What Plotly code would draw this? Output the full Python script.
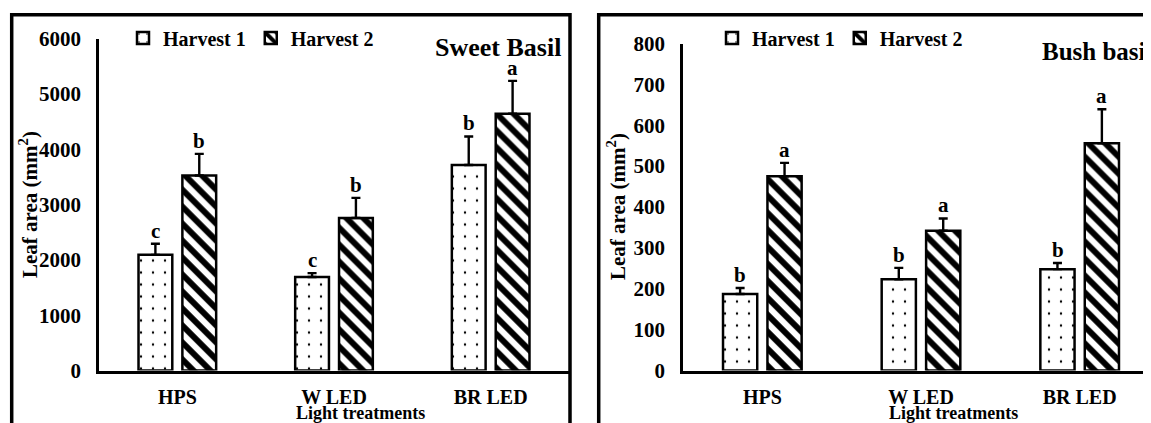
import plotly.graph_objects as go

# ---------------- data ----------------
treatments = ["HPS", "W LED", "BR LED"]
series_names = ["Harvest 1", "Harvest 2"]

sweet_h1 = [2090, 1690, 3715]
sweet_h1_err = [200, 70, 515]
sweet_h2 = [3525, 2755, 4640]
sweet_h2_err = [390, 365, 595]
sweet_h1_letters = ["c", "c", "b"]
sweet_h2_letters = ["b", "b", "a"]

bush_h1 = [187, 223, 248]
bush_h1_err = [15, 28, 15]
bush_h2 = [475, 342, 556]
bush_h2_err = [33, 30, 83]
bush_h1_letters = ["b", "b", "b"]
bush_h2_letters = ["a", "a", "a"]

sweet_ticks = [0, 1000, 2000, 3000, 4000, 5000, 6000]
bush_ticks = [0, 100, 200, 300, 400, 500, 600, 700, 800]

panel_titles = ["Sweet Basil", "Bush basil"]
y_title = "Leaf area (mm<sup>2</sup>)"
x_title = "Light treatments"

# ---------------- style ----------------
W, H = 1151, 423
OFF = 8  # page body margin of the html page
FONT = "Liberation Serif"


def px(x):
    return (x - OFF) / W


def py(y):
    return 1 - (y - OFF) / H


dots = dict(shape=".", fgcolor="black", bgcolor="white", fgopacity=1, size=12, solidity=0.03)
stripes = dict(shape="\\", fgcolor="black", bgcolor="white", fgopacity=1, size=12, solidity=0.5)
line = dict(color="black", width=2.5)


def err(arr):
    return dict(type="data", array=arr, arrayminus=[0] * len(arr), symmetric=False,
                color="black", thickness=2.4, width=4.5)


fig = go.Figure()

panels = [
    dict(x="x", y="y", legend="legend", h1=sweet_h1, e1=sweet_h1_err, h2=sweet_h2, e2=sweet_h2_err,
         l1=sweet_h1_letters, l2=sweet_h2_letters),
    dict(x="x2", y="y2", legend="legend2", h1=bush_h1, e1=bush_h1_err, h2=bush_h2, e2=bush_h2_err,
         l1=bush_h1_letters, l2=bush_h2_letters),
]

for p in panels:
    fig.add_trace(go.Bar(name=series_names[0], x=treatments, y=p["h1"], xaxis=p["x"], yaxis=p["y"],
                         legend=p["legend"], offsetgroup="1",
                         marker=dict(color="white", pattern=dots, line=line), error_y=err(p["e1"])))
    fig.add_trace(go.Bar(name=series_names[1], x=treatments, y=p["h2"], xaxis=p["x"], yaxis=p["y"],
                         legend=p["legend"], offsetgroup="2",
                         marker=dict(color="white", pattern=stripes, line=line), error_y=err(p["e2"])))

annotations = []
for p in panels:
    for vals, errs, letters, shift in [(p["h1"], p["e1"], p["l1"], -22), (p["h2"], p["e2"], p["l2"], 22)]:
        for t, v, e, lt in zip(treatments, vals, errs, letters):
            annotations.append(dict(x=t, y=v + e, xref=p["x"], yref=p["y"], text=lt, showarrow=False,
                                    xshift=shift, yshift=13, yanchor="middle",
                                    font=dict(family=FONT, size=21, color="black", weight="bold")))

# panel titles
annotations.append(dict(x=px(497.5), y=py(47), xref="paper", yref="paper", text=panel_titles[0],
                        showarrow=False, xanchor="center", yanchor="middle",
                        font=dict(family=FONT, size=26, color="black", weight="bold")))
annotations.append(dict(x=px(1040), y=py(51), xref="paper", yref="paper", text=panel_titles[1],
                        showarrow=False, xanchor="left", yanchor="middle",
                        font=dict(family=FONT, size=25, color="black", weight="bold")))
# axis titles
for xc, yc in [(28, 205), (616, 207)]:
    annotations.append(dict(x=px(xc), y=py(yc), xref="paper", yref="paper", text=y_title,
                            showarrow=False, textangle=-90, xanchor="center", yanchor="middle",
                            font=dict(family=FONT, size=21, color="black", weight="bold")))
for xc in [360, 953]:
    annotations.append(dict(x=px(xc), y=py(413), xref="paper", yref="paper", text=x_title,
                            showarrow=False, xanchor="center", yanchor="middle",
                            font=dict(family=FONT, size=18, color="black", weight="bold")))

tickfont = dict(family=FONT, size=21, color="black", weight="bold")
xtickfont = dict(family=FONT, size=20, color="black", weight="bold")
ydom_bottom = py(370.5)

shapes = [
    dict(type="rect", xref="paper", yref="paper", x0=px(11.7), x1=px(570), y0=-0.2, y1=py(14.7),
         line=dict(color="black", width=3.5), fillcolor="rgba(0,0,0,0)", layer="above"),
    dict(type="rect", xref="paper", yref="paper", x0=px(598.7), x1=px(1175), y0=-0.2, y1=py(14.7),
         line=dict(color="black", width=3.5), fillcolor="rgba(0,0,0,0)", layer="above"),
]

legend_common = dict(orientation="h", xanchor="left", yanchor="middle", bgcolor="rgba(0,0,0,0)",
                     font=dict(family=FONT, size=20, color="black", weight="bold"),
                     traceorder="normal", itemclick=False)

fig.update_layout(
    width=W, height=H, autosize=False,
    margin=dict(l=0, r=0, t=0, b=0, autoexpand=False),
    paper_bgcolor="white", plot_bgcolor="white",
    barmode="group", bargap=0.44, bargroupgap=0.23,
    font=dict(family=FONT, color="black"),
    xaxis=dict(domain=[px(99), px(569)], range=[-0.5, 2.5], showline=True, linecolor="black",
               linewidth=3, ticks="", tickfont=xtickfont, ticklabelstandoff=6, showgrid=False,
               zeroline=False, anchor="y", automargin=False),
    yaxis=dict(domain=[ydom_bottom, py(38.5)], range=[0, 6000], tickvals=sweet_ticks,
               showline=True, linecolor="black", linewidth=2.5, ticks="", tickfont=tickfont,
               ticklabelstandoff=11, showgrid=False, zeroline=False, anchor="x", automargin=False),
    xaxis2=dict(domain=[px(683), 1], range=[-0.5, 2.5], showline=True, linecolor="black",
                linewidth=3, ticks="", tickfont=xtickfont, ticklabelstandoff=6, showgrid=False,
                zeroline=False, anchor="y2", automargin=False),
    yaxis2=dict(domain=[ydom_bottom, py(43.5)], range=[0, 800], tickvals=bush_ticks,
                showline=True, linecolor="black", linewidth=2.5, ticks="", tickfont=tickfont,
                ticklabelstandoff=11, showgrid=False, zeroline=False, anchor="x2", automargin=False),
    legend=dict(x=px(123), y=py(38), **legend_common),
    legend2=dict(x=px(712), y=py(38), **legend_common),
    annotations=annotations,
    shapes=shapes,
    showlegend=True,
)

fig.write_html("out.html")
